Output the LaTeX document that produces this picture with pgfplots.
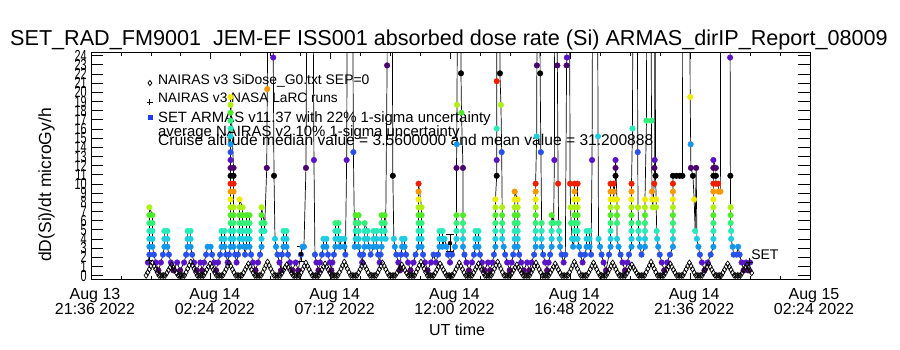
\documentclass[border=0pt]{standalone}
\usepackage{pgfplots}
\pgfplotsset{compat=1.18}
\usepackage{pgfplotstable}
\usepackage{fontspec}
\setmainfont{Liberation Sans}
\definecolor{col0}{RGB}{75,0,110}
\definecolor{col1}{RGB}{90,20,200}
\definecolor{col2}{RGB}{40,80,235}
\definecolor{col3}{RGB}{20,150,235}
\definecolor{col4}{RGB}{30,205,225}
\definecolor{col5}{RGB}{40,235,185}
\definecolor{col6}{RGB}{50,240,120}
\definecolor{col7}{RGB}{80,235,40}
\definecolor{col8}{RGB}{175,240,20}
\definecolor{col9}{RGB}{240,235,0}
\definecolor{col10}{RGB}{250,150,0}
\definecolor{col11}{RGB}{240,30,0}
\definecolor{col12}{RGB}{0,0,0}
\definecolor{legblue}{RGB}{30,60,240}

\pgfplotstableread{
t v c
2.28 1.44 c1
2.34 2.30 c2
2.34 3.16 c3
2.34 4.02 c4
2.34 4.88 c5
2.34 5.74 c6
2.34 6.60 c7
2.34 7.46 c8
2.46 6.60 c7
2.46 5.74 c6
2.46 4.88 c5
2.46 4.02 c4
2.46 3.16 c3
2.52 2.30 c2
2.60 1.44 c1
2.70 0.58 c0
2.80 1.44 c1
2.88 2.30 c2
2.94 3.16 c3
2.94 4.02 c4
2.94 4.88 c5
3.06 4.88 c5
3.06 4.02 c4
3.06 3.16 c3
3.12 2.30 c2
3.20 1.44 c1
3.30 0.58 c0
3.45 1.44 c1
3.57 0.58 c0
3.73 1.44 c1
3.81 2.30 c2
3.87 3.16 c3
3.87 4.02 c4
3.87 4.88 c5
3.99 4.88 c5
3.99 4.02 c4
3.99 3.16 c3
4.05 2.30 c2
4.13 1.44 c1
4.23 0.58 c0
4.38 1.44 c1
4.45 0.58 c0
4.53 1.44 c1
4.61 2.30 c2
4.67 3.16 c3
4.79 3.16 c3
4.85 2.30 c2
4.93 1.44 c1
5.01 0.58 c0
5.09 1.44 c1
5.17 2.30 c2
5.23 3.16 c3
5.23 4.02 c4
5.23 4.88 c5
5.35 4.88 c5
5.35 4.02 c4
5.35 3.16 c3
5.41 2.30 c2
5.47 1.44 c1
5.53 2.30 c2
5.59 3.16 c3
5.59 4.02 c4
5.59 4.88 c5
5.59 5.74 c6
5.59 6.60 c7
5.59 7.46 c8
5.59 8.32 c9
5.59 9.18 c10
5.59 10.04 c11
5.59 10.90 c12
5.59 11.76 c0
5.59 12.62 c1
5.59 13.48 c2
5.59 14.34 c3
5.59 15.20 c4
5.59 16.06 c5
5.59 16.92 c6
5.59 17.78 c7
5.59 18.64 c8
5.59 19.50 c9
5.71 11.76 c0
5.71 10.90 c12
5.71 10.04 c11
5.71 9.18 c10
5.71 7.46 c8
5.71 6.60 c7
5.71 5.74 c6
5.71 4.88 c5
5.71 4.02 c4
5.71 3.16 c3
5.77 2.30 c2
5.83 1.44 c1
5.89 2.30 c2
5.95 3.16 c3
5.95 4.02 c4
5.95 4.88 c5
5.95 5.74 c6
5.95 6.60 c7
5.95 7.46 c8
5.95 8.32 c9
6.07 7.46 c8
6.07 6.60 c7
6.07 5.74 c6
6.07 4.88 c5
6.07 4.02 c4
6.13 3.16 c3
6.17 2.30 c2
6.23 3.16 c3
6.23 4.02 c4
6.23 4.88 c5
6.23 5.74 c6
6.23 6.60 c7
6.35 6.60 c7
6.35 5.74 c6
6.35 4.88 c5
6.35 4.02 c4
6.35 3.16 c3
6.41 2.30 c2
6.49 1.44 c1
6.59 0.58 c0
6.69 1.44 c1
6.77 2.30 c2
6.83 3.16 c3
6.83 4.02 c4
6.83 4.88 c5
6.83 5.74 c6
6.83 6.60 c7
6.83 7.46 c8
6.95 5.74 c6
6.95 4.88 c5
7.04 11.76 c0
7.06 20.36 c10
7.19 60 c0
7.30 23.80 c1
7.33 10.90 c12
7.37 4.02 c4
7.41 3.16 c3
7.47 2.30 c2
7.55 1.44 c1
7.61 0.58 c0
7.65 2.30 c2
7.71 3.16 c3
7.71 4.02 c4
7.71 4.88 c5
7.83 4.88 c5
7.83 4.02 c4
7.83 3.16 c3
7.89 2.30 c2
7.97 1.44 c1
8.07 0.58 c0
8.20 1.44 c1
8.30 0.58 c0
8.41 2.30 c2
8.47 3.16 c3
8.53 3.16 c3
8.61 11.76 c0
8.70 60 c0
8.84 60 c0
8.93 12.62 c1
8.97 2.30 c2
9.03 1.44 c1
9.11 0.58 c0
9.17 1.44 c1
9.25 2.30 c2
9.31 3.16 c3
9.31 4.02 c4
9.43 4.02 c4
9.43 3.16 c3
9.49 2.30 c2
9.57 1.44 c1
9.63 0.58 c0
9.67 1.44 c1
9.73 2.30 c2
9.79 3.16 c3
9.79 4.02 c4
9.79 4.88 c5
9.79 5.74 c6
9.91 5.74 c6
9.91 4.88 c5
9.91 4.02 c4
9.97 3.16 c3
10.03 4.02 c4
10.15 4.02 c4
10.15 3.16 c3
10.19 2.30 c2
10.24 12.62 c1
10.31 60 c0
10.44 60 c0
10.51 13.48 c2
10.56 3.16 c3
10.60 4.02 c4
10.60 4.88 c5
10.60 5.74 c6
10.60 6.60 c7
10.72 6.60 c7
10.72 5.74 c6
10.72 4.88 c5
10.72 4.02 c4
10.72 3.16 c3
10.78 2.30 c2
10.86 1.44 c1
10.90 2.30 c2
10.96 3.16 c3
10.96 4.02 c4
10.96 4.88 c5
10.96 5.74 c6
11.08 4.88 c5
11.08 4.02 c4
11.14 3.16 c3
11.20 2.30 c2
11.32 3.16 c3
11.32 4.02 c4
11.32 4.88 c5
11.44 4.88 c5
11.44 4.02 c4
11.44 3.16 c3
11.50 2.30 c2
11.56 1.44 c1
11.60 2.30 c2
11.64 3.16 c3
11.64 4.02 c4
11.64 4.88 c5
11.64 5.74 c6
11.64 6.60 c7
11.76 6.60 c7
11.76 5.74 c6
11.76 4.88 c5
11.80 4.02 c4
11.86 22.94 c0
11.92 60 c0
12.03 60 c0
12.09 10.90 c12
12.13 4.02 c4
12.17 3.16 c3
12.23 2.30 c2
12.31 1.44 c1
12.38 0.58 c0
12.42 2.30 c2
12.46 3.16 c3
12.46 4.02 c4
12.56 4.02 c4
12.56 3.16 c3
12.62 2.30 c2
12.70 1.44 c1
12.80 0.58 c0
12.92 1.44 c1
13.00 2.30 c2
13.12 3.16 c3
13.12 4.02 c4
13.12 4.88 c5
13.12 5.74 c6
13.12 6.60 c7
13.12 7.46 c8
13.12 8.32 c9
13.12 9.18 c10
13.12 10.04 c11
13.24 7.46 c8
13.24 6.60 c7
13.24 5.74 c6
13.24 4.88 c5
13.24 4.02 c4
13.24 3.16 c3
13.30 2.30 c2
13.38 1.44 c1
13.48 0.58 c0
13.62 1.44 c1
13.72 2.30 c2
13.82 1.44 c1
13.90 2.30 c2
13.96 3.16 c3
13.96 4.02 c4
13.96 4.88 c5
14.08 4.88 c5
14.08 4.02 c4
14.08 3.16 c3
14.16 4.02 c4
14.24 3.16 c3
14.30 2.30 c2
14.38 1.44 c1
14.46 2.30 c2
14.58 3.16 c3
14.64 4.02 c4
14.64 4.88 c5
14.64 5.74 c6
14.64 6.60 c7
14.64 11.76 c0
14.65 14.34 c3
14.66 18.64 c8
14.72 60 c0
14.78 60 c0
14.82 22.08 c12
14.84 17.78 c7
14.90 11.76 c0
14.90 6.60 c7
14.90 5.74 c6
14.90 4.88 c5
14.90 4.02 c4
14.90 3.16 c3
14.96 2.30 c2
15.04 1.44 c1
15.14 0.58 c0
15.26 1.44 c1
15.34 2.30 c2
15.40 3.16 c3
15.40 4.02 c4
15.40 4.88 c5
15.52 4.88 c5
15.52 4.02 c4
15.52 3.16 c3
15.58 2.30 c2
15.66 1.44 c1
15.76 0.58 c0
15.90 1.44 c1
15.98 0.58 c0
16.08 1.44 c1
16.14 2.30 c2
16.20 3.16 c3
16.20 4.02 c4
16.20 4.88 c5
16.20 5.74 c6
16.20 6.60 c7
16.20 7.46 c8
16.20 8.32 c9
16.25 10.90 c12
16.25 12.62 c1
16.25 16.06 c5
16.25 21.22 c11
16.30 60 c0
16.36 60 c0
16.38 22.08 c12
16.42 18.64 c8
16.45 13.48 c2
16.47 7.46 c8
16.47 6.60 c7
16.47 5.74 c6
16.47 4.88 c5
16.47 4.02 c4
16.53 3.16 c3
16.59 2.30 c2
16.67 1.44 c1
16.77 0.58 c0
16.85 1.44 c1
16.91 2.30 c2
16.97 3.16 c3
16.97 4.02 c4
16.97 4.88 c5
16.97 5.74 c6
16.97 6.60 c7
16.97 7.46 c8
16.97 8.32 c9
16.97 9.18 c10
17.09 8.32 c9
17.09 7.46 c8
17.09 6.60 c7
17.09 5.74 c6
17.09 4.88 c5
17.09 4.02 c4
17.09 3.16 c3
17.15 2.30 c2
17.23 1.44 c1
17.33 0.58 c0
17.47 1.44 c1
17.55 0.58 c0
17.65 1.44 c1
17.75 2.30 c2
17.81 3.16 c3
17.81 4.02 c4
17.81 4.88 c5
17.81 5.74 c6
17.81 6.60 c7
17.81 7.46 c8
17.81 8.32 c9
17.81 9.18 c10
17.81 10.04 c11
17.85 15.20 c4
17.86 22.94 c0
17.90 60 c0
17.96 60 c0
17.99 22.08 c12
18.02 13.48 c2
18.05 5.74 c6
18.05 4.88 c5
18.05 4.02 c4
18.05 3.16 c3
18.11 2.30 c2
18.19 1.44 c1
18.27 0.58 c0
18.33 1.44 c1
18.39 2.30 c2
18.45 3.16 c3
18.45 4.02 c4
18.45 4.88 c5
18.45 5.74 c6
18.45 6.60 c7
18.53 5.74 c6
18.56 12.62 c1
18.60 60 c0
18.64 60 c0
18.68 22.94 c0
18.71 10.04 c11
18.73 5.74 c6
18.75 4.88 c5
18.77 4.02 c4
18.79 3.16 c3
18.85 2.30 c2
18.93 1.44 c1
19.00 2.30 c2
19.05 22.94 c0
19.06 23.80 c1
19.09 60 c0
19.14 60 c0
19.19 10.04 c11
19.21 7.46 c8
19.23 5.74 c6
19.27 4.02 c4
19.31 3.16 c3
19.37 4.02 c4
19.37 4.88 c5
19.37 5.74 c6
19.37 6.60 c7
19.37 7.46 c8
19.37 8.32 c9
19.37 9.18 c10
19.37 10.04 c11
19.49 10.04 c11
19.49 8.32 c9
19.49 7.46 c8
19.49 6.60 c7
19.49 5.74 c6
19.49 4.88 c5
19.49 4.02 c4
19.55 3.16 c3
19.61 2.30 c2
19.69 1.44 c1
19.79 2.30 c2
19.85 3.16 c3
19.85 4.02 c4
19.85 4.88 c5
19.97 4.88 c5
19.97 4.02 c4
19.97 3.16 c3
20.03 2.30 c2
20.07 12.62 c1
20.12 60 c0
20.26 60 c0
20.31 15.20 c4
20.33 4.02 c4
20.39 3.16 c3
20.45 2.30 c2
20.53 1.44 c1
20.63 0.58 c0
20.75 2.30 c2
20.81 3.16 c3
20.81 4.02 c4
20.81 4.88 c5
20.81 5.74 c6
20.81 6.60 c7
20.81 7.46 c8
20.81 8.32 c9
20.81 9.18 c10
20.81 10.04 c11
20.93 10.04 c11
20.93 9.18 c10
20.93 8.32 c9
21.01 10.90 c12
21.01 11.76 c0
21.01 12.62 c1
21.07 8.32 c9
21.07 7.46 c8
21.07 6.60 c7
21.07 5.74 c6
21.07 4.02 c4
21.13 3.16 c3
21.21 2.30 c2
21.29 1.44 c1
21.39 0.58 c0
21.49 1.44 c1
21.55 2.30 c2
21.65 3.16 c3
21.65 4.02 c4
21.65 4.88 c5
21.65 5.74 c6
21.65 6.60 c7
21.65 7.46 c8
21.65 8.32 c9
21.65 9.18 c10
21.65 10.04 c11
21.69 16.06 c5
21.73 60 c0
21.86 60 c0
21.90 13.48 c2
21.91 7.46 c8
21.93 5.74 c6
21.93 4.88 c5
21.95 4.02 c4
21.99 3.16 c3
22.05 2.30 c2
22.19 3.16 c3
22.19 4.02 c4
22.19 4.88 c5
22.19 5.74 c6
22.19 6.60 c7
22.19 7.46 c8
22.19 8.32 c9
22.25 16.92 c6
22.28 60 c0
22.40 60 c0
22.45 16.92 c6
22.47 9.18 c10
22.48 8.32 c9
22.50 7.46 c8
22.56 10.04 c11
22.57 11.76 c0
22.58 12.62 c1
22.59 60 c0
22.61 10.90 c12
22.64 8.32 c9
22.64 7.46 c8
22.66 4.88 c5
22.68 4.02 c4
22.72 3.16 c3
22.78 2.30 c2
22.86 1.44 c1
22.96 0.58 c0
23.08 1.44 c1
23.19 2.30 c2
23.31 3.16 c3
23.31 4.02 c4
23.31 4.88 c5
23.31 5.74 c6
23.31 6.60 c7
23.31 7.46 c8
23.31 8.32 c9
23.31 9.18 c10
23.31 10.04 c11
23.31 10.90 c12
23.45 10.90 c12
23.58 10.90 c12
23.69 10.90 c12
23.72 60 c0
23.95 60 c0
24.00 19.50 c9
24.02 14.34 c3
24.03 11.76 c0
24.11 10.90 c12
24.16 8.32 c9
24.20 4.88 c5
24.24 11.76 c0
24.27 4.02 c4
24.33 3.16 c3
24.39 2.30 c2
24.47 1.44 c1
24.57 0.58 c0
24.70 1.44 c1
24.82 2.30 c2
24.93 3.16 c3
24.93 4.02 c4
24.93 4.88 c5
24.93 5.74 c6
24.93 6.60 c7
24.93 7.46 c8
24.93 8.32 c9
24.93 9.18 c10
24.93 10.04 c11
24.93 10.90 c12
24.93 11.76 c0
24.93 12.62 c1
25.03 11.76 c0
25.03 10.90 c12
25.03 10.04 c11
25.12 10.04 c11
25.14 9.18 c10
25.21 9.18 c10
25.23 60 c0
25.57 60 c0
25.60 23.80 c1
25.61 10.90 c12
25.62 7.46 c8
25.62 6.60 c7
25.62 5.74 c6
25.64 4.88 c5
25.64 4.02 c4
25.70 3.16 c3
25.74 2.30 c2
25.86 2.30 c2
25.92 3.16 c3
25.98 2.30 c2
26.06 1.44 c1
26.14 0.58 c0
26.24 1.44 c1
26.32 0.58 c0
26.40 1.44 c1
}\armas

\begin{document}
\begin{tikzpicture}
\path[use as bounding box] (0,0) rectangle (900bp,350bp);
\begin{axis}[
  at={(91bp,71bp)}, anchor=south west,
  scale only axis, width=719bp, height=226.3bp,
  xmin=0, xmax=28.8, ymin=-0.36, ymax=24.33,
  xtick={0,4.8,9.6,14.4,19.2,24,28.8},
  xticklabels={{Aug 13\\21:36 2022},{Aug 14\\02:24 2022},{Aug 14\\07:12 2022},{Aug 14\\12:00 2022},{Aug 14\\16:48 2022},{Aug 14\\21:36 2022},{Aug 15\\02:24 2022}},
  minor x tick num=3,
  ytick={0,1,...,24},
  tick align=inside,
  major tick length=12bp,
  x tick style={/pgfplots/major tick length=6bp,/pgfplots/minor tick length=3bp},
  every tick/.append style={black, line width=0.8bp},
  axis line style={line width=0.8bp},
  /pgf/number format/assume math mode=true,
  yticklabel style={font=\fontsize{16bp}{16bp}\selectfont, xscale=0.68, inner sep=0pt, xshift=-6bp},
  xticklabel style={align=center, font=\fontsize{16bp}{15bp}\selectfont, inner sep=0pt, yshift=-9bp, xshift=4bp},
  clip=true,
]
\addplot[black, line width=0.7bp, mark=none] table[x=t,y=v] {\armas};
\addplot[scatter, only marks, scatter src=explicit symbolic, restrict y to domain=-5:25,
  scatter/classes={
    c0={mark=*,mark size=2.8bp,draw=col0,fill=col0},
    c1={mark=*,mark size=2.8bp,draw=col1,fill=col1},
    c2={mark=*,mark size=2.8bp,draw=col2,fill=col2},
    c3={mark=*,mark size=2.8bp,draw=col3,fill=col3},
    c4={mark=*,mark size=2.8bp,draw=col4,fill=col4},
    c5={mark=*,mark size=2.8bp,draw=col5,fill=col5},
    c6={mark=*,mark size=2.8bp,draw=col6,fill=col6},
    c7={mark=*,mark size=2.8bp,draw=col7,fill=col7},
    c8={mark=*,mark size=2.8bp,draw=col8,fill=col8},
    c9={mark=*,mark size=2.8bp,draw=col9,fill=col9},
    c10={mark=*,mark size=2.8bp,draw=col10,fill=col10},
    c11={mark=*,mark size=2.8bp,draw=col11,fill=col11},
    c12={mark=*,mark size=2.8bp,draw=col12,fill=col12}}]
  table[x=t,y=v,meta=c] {\armas};
% NAIRAS v3 SiDose (orbit humps)
\addplot[only marks, mark=diamond, mark size=2.8bp, black, mark options={line width=0.7bp}] coordinates {
(2.208,0.02) (2.272,0.35) (2.336,0.70) (2.400,1.05) (2.464,1.40) (2.528,1.05) (2.592,0.70) (2.656,0.35) (2.720,0.02) (2.784,0.02)
(2.848,0.02) (2.912,0.02) (2.976,0.02) (3.040,0.30) (3.104,0.60) (3.168,0.90) (3.232,1.20) (3.296,0.90) (3.360,0.60) (3.424,0.30) (3.488,0.02) (3.552,0.02)
(3.616,0.02) (3.680,0.02) (3.744,0.02) (3.808,0.38) (3.872,0.75) (3.936,1.13) (4.000,1.50) (4.064,1.13) (4.128,0.75) (4.192,0.38) (4.256,0.02) (4.320,0.02)
(4.384,0.02) (4.448,0.02) (4.512,0.02) (4.576,0.33) (4.640,0.65) (4.704,0.98) (4.768,1.30) (4.832,0.98) (4.896,0.65) (4.960,0.33) (5.024,0.02) (5.088,0.02)
(5.152,0.02) (5.216,0.02) (5.280,0.02) (5.344,0.35) (5.408,0.70) (5.472,1.05) (5.536,1.40) (5.600,1.05) (5.664,0.70) (5.728,0.35) (5.792,0.02) (5.856,0.02)
(5.920,0.02) (5.984,0.02) (6.048,0.02) (6.112,0.33) (6.176,0.65) (6.240,0.98) (6.304,1.30) (6.368,0.98) (6.432,0.65) (6.496,0.33) (6.560,0.02) (6.624,0.02)
(6.688,0.02) (6.752,0.02) (6.816,0.02) (6.880,0.38) (6.944,0.75) (7.008,1.13) (7.072,1.50) (7.136,1.13) (7.200,0.75) (7.264,0.38) (7.328,0.02) (7.392,0.02)
(7.456,0.02) (7.520,0.02) (7.584,0.02) (7.648,0.30) (7.712,0.60) (7.776,0.90) (7.840,1.20) (7.904,0.90) (7.968,0.60) (8.032,0.30) (8.096,0.02) (8.160,0.02)
(8.224,0.02) (8.288,0.02) (8.352,0.02) (8.416,0.35) (8.480,0.70) (8.544,1.05) (8.608,1.40) (8.672,1.05) (8.736,0.70) (8.800,0.35) (8.864,0.02) (8.928,0.02)
(8.992,0.02) (9.056,0.02) (9.120,0.02) (9.184,0.33) (9.248,0.65) (9.312,0.98) (9.376,1.30) (9.440,0.98) (9.504,0.65) (9.568,0.33) (9.632,0.02) (9.696,0.02)
(9.760,0.02) (9.824,0.02) (9.888,0.02) (9.952,0.38) (10.016,0.75) (10.080,1.13) (10.144,1.50) (10.208,1.13) (10.272,0.75) (10.336,0.38) (10.400,0.02) (10.464,0.02)
(10.528,0.02) (10.592,0.02) (10.656,0.02) (10.720,0.35) (10.784,0.70) (10.848,1.05) (10.912,1.40) (10.976,1.05) (11.040,0.70) (11.104,0.35) (11.168,0.02) (11.232,0.02)
(11.296,0.02) (11.360,0.02) (11.424,0.02) (11.488,0.35) (11.552,0.70) (11.616,1.05) (11.680,1.40) (11.744,1.05) (11.808,0.70) (11.872,0.35) (11.936,0.02) (12.000,0.02)
(12.064,0.02) (12.128,0.02) (12.192,0.02) (12.256,0.30) (12.320,0.60) (12.384,0.90) (12.448,1.20) (12.512,0.90) (12.576,0.60) (12.640,0.30) (12.704,0.02) (12.768,0.02)
(12.832,0.02) (12.896,0.02) (12.960,0.02) (13.024,0.38) (13.088,0.75) (13.152,1.13) (13.216,1.50) (13.280,1.13) (13.344,0.75) (13.408,0.38) (13.472,0.02) (13.536,0.02)
(13.600,0.02) (13.664,0.02) (13.728,0.02) (13.792,0.33) (13.856,0.65) (13.920,0.98) (13.984,1.30) (14.048,0.98) (14.112,0.65) (14.176,0.33) (14.240,0.02) (14.304,0.02)
(14.368,0.02) (14.432,0.02) (14.496,0.02) (14.560,0.35) (14.624,0.70) (14.688,1.05) (14.752,1.40) (14.816,1.05) (14.880,0.70) (14.944,0.35) (15.008,0.02) (15.072,0.02)
(15.136,0.02) (15.200,0.02) (15.264,0.02) (15.328,0.33) (15.392,0.65) (15.456,0.98) (15.520,1.30) (15.584,0.98) (15.648,0.65) (15.712,0.33) (15.776,0.02) (15.840,0.02)
(15.904,0.02) (15.968,0.02) (16.032,0.02) (16.096,0.38) (16.160,0.75) (16.224,1.13) (16.288,1.50) (16.352,1.13) (16.416,0.75) (16.480,0.38) (16.544,0.02) (16.608,0.02)
(16.672,0.02) (16.736,0.02) (16.800,0.02) (16.864,0.30) (16.928,0.60) (16.992,0.90) (17.056,1.20) (17.120,0.90) (17.184,0.60) (17.248,0.30) (17.312,0.02) (17.376,0.02)
(17.440,0.02) (17.504,0.02) (17.568,0.02) (17.632,0.35) (17.696,0.70) (17.760,1.05) (17.824,1.40) (17.888,1.05) (17.952,0.70) (18.016,0.35) (18.080,0.02) (18.144,0.02)
(18.208,0.02) (18.272,0.02) (18.336,0.02) (18.400,0.33) (18.464,0.65) (18.528,0.98) (18.592,1.30) (18.656,0.98) (18.720,0.65) (18.784,0.33) (18.848,0.02) (18.912,0.02)
(18.976,0.02) (19.040,0.02) (19.104,0.02) (19.168,0.38) (19.232,0.75) (19.296,1.13) (19.360,1.50) (19.424,1.13) (19.488,0.75) (19.552,0.38) (19.616,0.02) (19.680,0.02)
(19.744,0.02) (19.808,0.02) (19.872,0.02) (19.936,0.35) (20.000,0.70) (20.064,1.05) (20.128,1.40) (20.192,1.05) (20.256,0.70) (20.320,0.35) (20.384,0.02) (20.448,0.02)
(20.512,0.02) (20.576,0.02) (20.640,0.02) (20.704,0.35) (20.768,0.70) (20.832,1.05) (20.896,1.40) (20.960,1.05) (21.024,0.70) (21.088,0.35) (21.152,0.02) (21.216,0.02)
(21.280,0.02) (21.344,0.02) (21.408,0.02) (21.472,0.30) (21.536,0.60) (21.600,0.90) (21.664,1.20) (21.728,0.90) (21.792,0.60) (21.856,0.30) (21.920,0.02) (21.984,0.02)
(22.048,0.02) (22.112,0.02) (22.176,0.02) (22.240,0.38) (22.304,0.75) (22.368,1.13) (22.432,1.50) (22.496,1.13) (22.560,0.75) (22.624,0.38) (22.688,0.02) (22.752,0.02)
(22.816,0.02) (22.880,0.02) (22.944,0.02) (23.008,0.33) (23.072,0.65) (23.136,0.98) (23.200,1.30) (23.264,0.98) (23.328,0.65) (23.392,0.33) (23.456,0.02) (23.520,0.02)
(23.584,0.02) (23.648,0.02) (23.712,0.02) (23.776,0.35) (23.840,0.70) (23.904,1.05) (23.968,1.40) (24.032,1.05) (24.096,0.70) (24.160,0.35) (24.224,0.02) (24.288,0.02)
(24.352,0.02) (24.416,0.02) (24.480,0.02) (24.544,0.33) (24.608,0.65) (24.672,0.98) (24.736,1.30) (24.800,0.98) (24.864,0.65) (24.928,0.33) (24.992,0.02) (25.056,0.02)
(25.120,0.02) (25.184,0.02) (25.248,0.02) (25.312,0.33) (25.376,0.65) (25.440,0.98) (25.504,1.30) (25.568,0.98) (25.632,0.65) (25.696,0.33) (25.760,0.02) (25.824,0.02)
(25.888,0.02) (25.952,0.02) (26.016,0.02) (26.080,0.30) (26.144,0.60) (26.208,0.90) (26.272,1.20) (26.336,0.90) (26.400,0.60) (26.464,0.30)
};
\addplot[only marks, mark=none, black, error bars/.cd, y dir=both, y explicit,
  error bar style={black, line width=0.8bp}, error mark options={black, rotate=90, mark size=4bp, line width=0.8bp}]
  coordinates {(8.41,2.35) +- (0,0.82) (14.38,3.55) +- (0,0.93)};
\addplot[only marks, mark=+, mark size=3.5bp, black, mark options={line width=0.9bp}] coordinates {(2.36,1.63) (26.36,1.50)};
% legend symbols
\addplot[only marks, mark=diamond, mark size=2.6bp, black, mark options={line width=0.8bp}] coordinates {(2.36,21.02)};
\addplot[only marks, mark=+, mark size=3bp, black, mark options={line width=0.9bp}] coordinates {(2.36,18.91)};
\addplot[only marks, mark=square*, mark size=2bp, draw=legblue, fill=legblue] coordinates {(2.39,17.27)};
\node[anchor=base west, inner sep=0pt, font=\fontsize{13.9bp}{14bp}\selectfont] at (axis cs:2.68,20.84) {NAIRAS v3 SiDose\_G0.txt SEP=0};
\node[anchor=base west, inner sep=0pt, font=\fontsize{13.7bp}{14bp}\selectfont] at (axis cs:2.68,18.87) {NAIRAS v3 NASA LaRC runs};
\node[anchor=base west, inner sep=0pt, font=\fontsize{14.9bp}{15bp}\selectfont] at (axis cs:2.68,16.69) {SET ARMAS v11.37 with 22\% 1-sigma uncertainty};
\node[anchor=base west, inner sep=0pt, font=\fontsize{14.9bp}{15bp}\selectfont] at (axis cs:2.68,15.16) {average NAIRAS v2 10\% 1-sigma uncertainty};
\node[anchor=base west, inner sep=0pt, font=\fontsize{15.6bp}{16bp}\selectfont] at (axis cs:2.68,14.18) {Cruise altitude median value = 3.5600000 and mean value = 31.200888};
\node[anchor=base west, inner sep=0pt, font=\fontsize{14bp}{14bp}\selectfont] at (axis cs:26.44,1.75) {SET};
\end{axis}
\node[anchor=base, inner sep=0pt, font=\fontsize{21.6bp}{22bp}\selectfont] at (449bp,304bp) {SET\_RAD\_FM9001\ \ JEM-EF ISS001 absorbed dose rate (Si) ARMAS\_dirIP\_Report\_08009};
\node[anchor=base, inner sep=0pt, rotate=90, font=\fontsize{17.5bp}{18bp}\selectfont] at (51bp,165bp) {dD(Si)/dt microGy/h};
\node[anchor=base, inner sep=0pt, font=\fontsize{16bp}{16bp}\selectfont] at (457bp,15bp) {UT time};
\end{tikzpicture}
\end{document}
